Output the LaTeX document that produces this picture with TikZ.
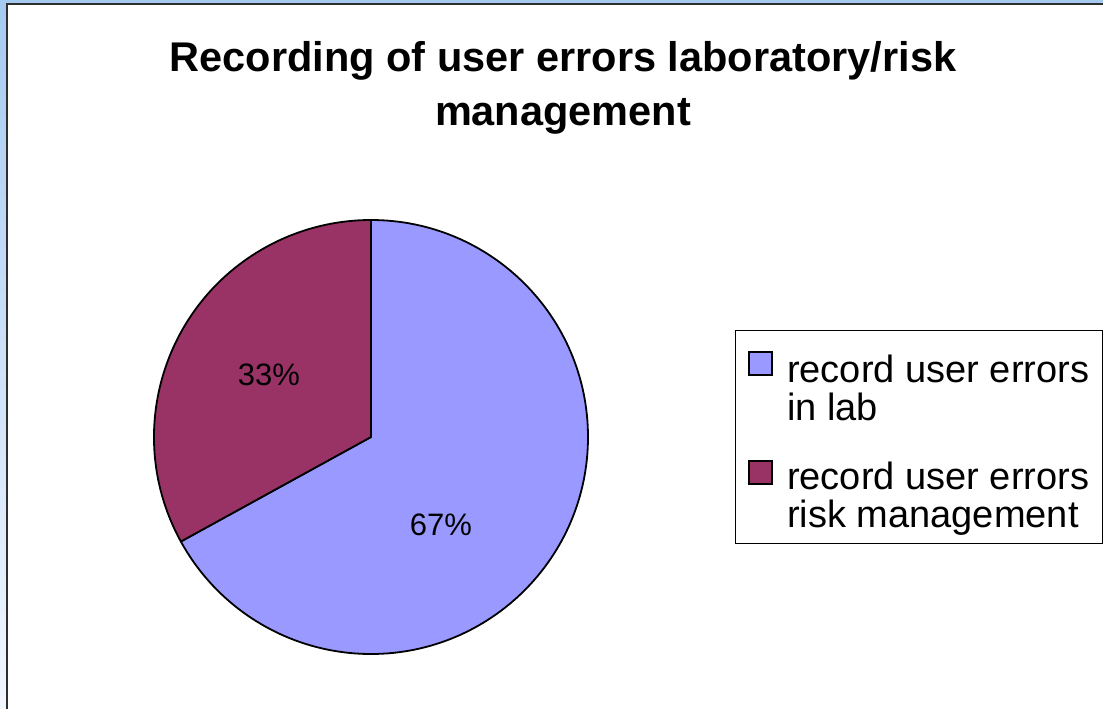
\documentclass[tikz,border=0pt]{standalone}
\usepackage{fontspec}
\setmainfont{Liberation Sans}
\definecolor{labblue}{HTML}{9999FF}
\definecolor{riskred}{HTML}{993366}
\definecolor{paneblue}{HTML}{A6CAF0}
\definecolor{panelight}{HTML}{F2F7FF}
\definecolor{framegray}{HTML}{2E2E2E}
\begin{document}
\begin{tikzpicture}[x=1pt,y=-1pt,
  slice/.style={draw=black,line width=1.8pt,line join=round},
  pct/.style={font=\fontsize{31}{31}\selectfont,inner sep=0pt},
  key/.style={draw=black,line width=1.3pt,minimum size=23pt,inner sep=0pt},
  legtext/.style={font=\fontsize{38}{38}\selectfont,align=left,anchor=base west,inner sep=0pt}]
\useasboundingbox (0,0) rectangle (1103,709);
% window pane behind the chart
\shade[top color=paneblue,bottom color=panelight] (0,0) rectangle (7,709);
\fill[paneblue] (0,0) rectangle (1103,4);
\fill[white] (7,4) rectangle (1103,709);
\draw[framegray,line width=2.4pt] (7,709) -- (7,4) -- (1103,4);
% title
\node[font=\fontsize{41.5}{54}\selectfont\bfseries,align=center] (title) at (563,88)
  {Recording of user errors laboratory/risk\\management};
% pie, centre (371,437), radius 217
\coordinate (c) at (371,437);
\filldraw[slice,fill=labblue] (c) -- ++(-90:217) arc (-90:151.2:217) -- cycle;
\filldraw[slice,fill=riskred] (c) -- ++(151.2:217) arc (151.2:270:217) -- cycle;
\node[pct] (prisk) at (269,375) {33\%};
\node[pct] (plab) at (441,525) {67\%};
% legend (base anchor sits on the last line)
\node[draw=black,line width=0.8pt,minimum width=367pt,minimum height=213pt,anchor=north west,inner sep=0pt] (legend) at (735,330) {};
\node[key,fill=labblue] (klab) at (760.5,363.5) {};
\node[key,fill=riskred] (krisk) at (760.5,472.5) {};
\node[legtext] (tlab) at (787,420) {record user errors\\in lab};
\node[legtext] (trisk) at (787,527) {record user errors\\risk management};
\end{tikzpicture}
\end{document}
